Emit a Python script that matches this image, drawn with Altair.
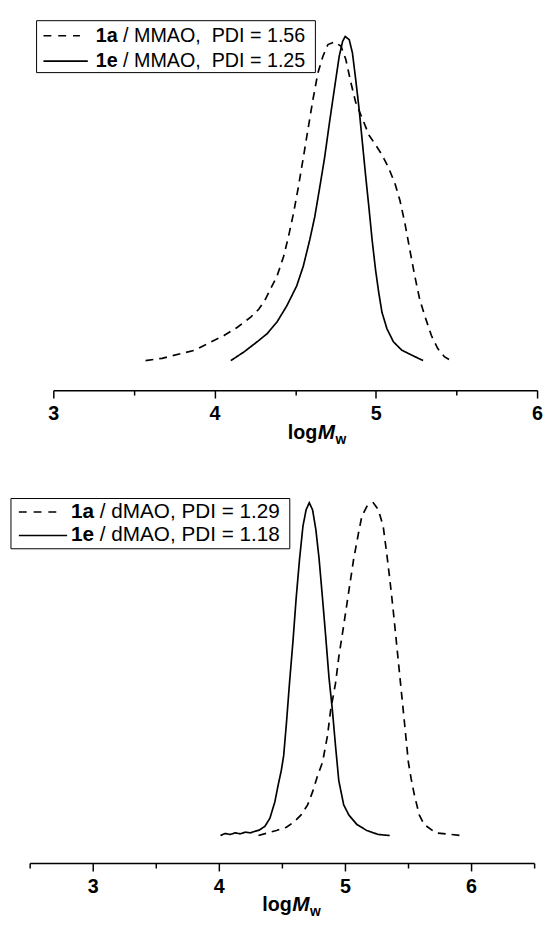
import altair as alt
import pandas as pd

# ---------------- data ----------------
# Top panel (MMAO)
a_mmao_x = [3.572, 3.674, 3.796, 3.878, 3.979, 4.061, 4.142, 4.224, 4.275, 4.315, 4.346, 4.387,
            4.428, 4.458, 4.489, 4.519, 4.550, 4.580, 4.611, 4.641, 4.672, 4.703, 4.743, 4.784,
            4.814, 4.845, 4.875, 4.916, 4.957, 4.998, 5.038, 5.079, 5.120, 5.150, 5.181, 5.211,
            5.242, 5.272, 5.303, 5.344, 5.384, 5.425, 5.466]
a_mmao_y = [0.000, 0.007, 0.022, 0.032, 0.058, 0.078, 0.103, 0.134, 0.159, 0.189, 0.220, 0.260,
            0.321, 0.382, 0.453, 0.534, 0.625, 0.716, 0.808, 0.888, 0.939, 0.975, 0.983, 0.970,
            0.929, 0.858, 0.797, 0.747, 0.696, 0.666, 0.635, 0.595, 0.544, 0.493, 0.422, 0.341,
            0.260, 0.189, 0.139, 0.078, 0.037, 0.012, 0.000]

e_mmao_x = [4.101, 4.183, 4.264, 4.326, 4.387, 4.448, 4.509, 4.550, 4.590, 4.621, 4.652, 4.682,
            4.713, 4.743, 4.773, 4.794, 4.810, 4.835, 4.855, 4.875, 4.896, 4.916, 4.936, 4.957,
            4.977, 4.998, 5.018, 5.038, 5.069, 5.109, 5.161, 5.222, 5.293]
e_mmao_y = [0.000, 0.027, 0.058, 0.083, 0.119, 0.169, 0.230, 0.291, 0.372, 0.443, 0.534, 0.625,
            0.736, 0.838, 0.939, 0.985, 1.000, 0.990, 0.949, 0.868, 0.777, 0.676, 0.574, 0.473,
            0.372, 0.281, 0.210, 0.149, 0.098, 0.058, 0.032, 0.017, 0.000]

# Bottom panel (dMAO)
a_dmao_x = [4.314, 4.457, 4.536, 4.600, 4.652, 4.704, 4.743, 4.783, 4.822, 4.861, 4.887, 4.925,
            4.951, 4.991, 5.030, 5.069, 5.108, 5.134, 5.174, 5.225, 5.264, 5.303, 5.330, 5.355,
            5.381, 5.407, 5.433, 5.459, 5.485, 5.503, 5.525, 5.551, 5.589, 5.628, 5.720, 5.916]
a_dmao_y = [0.000, 0.015, 0.025, 0.042, 0.062, 0.092, 0.131, 0.180, 0.220, 0.299, 0.378, 0.457,
            0.536, 0.634, 0.733, 0.831, 0.910, 0.960, 0.989, 1.000, 0.979, 0.930, 0.851, 0.772,
            0.683, 0.585, 0.486, 0.388, 0.289, 0.220, 0.170, 0.121, 0.062, 0.033, 0.008, 0.000]

e_dmao_x = [4.013, 4.050, 4.090, 4.130, 4.170, 4.210, 4.250, 4.290, 4.320, 4.366, 4.405, 4.444,
            4.470, 4.495, 4.514, 4.536, 4.560, 4.588, 4.613, 4.640, 4.667, 4.692, 4.717, 4.743,
            4.769, 4.795, 4.822, 4.848, 4.873, 4.900, 4.925, 4.951, 4.990, 5.030, 5.095, 5.173,
            5.264, 5.355]
e_dmao_y = [0.000, 0.006, 0.003, 0.008, 0.005, 0.010, 0.008, 0.013, 0.016, 0.028, 0.052, 0.101,
            0.151, 0.195, 0.240, 0.338, 0.457, 0.585, 0.713, 0.831, 0.930, 0.979, 1.000, 0.979,
            0.920, 0.831, 0.713, 0.595, 0.476, 0.378, 0.270, 0.165, 0.092, 0.062, 0.033, 0.015,
            0.003, 0.000]

top_ticks = [3, 3.5, 4, 4.5, 5, 5.5, 6]
bot_ticks = [2.5, 3, 3.5, 4, 4.5, 5, 5.5, 6, 6.5]

series_top = ["1a MMAO", "1e MMAO"]
series_bot = ["1a dMAO", "1e dMAO"]
legend_bold = ["1a", "1e"]
legend_top_rest = ["/ MMAO,\u00a0\u00a0PDI = 1.56", "/ MMAO,\u00a0\u00a0PDI = 1.25"]
legend_bot_rest = ["/ dMAO, PDI = 1.29", "/ dMAO, PDI = 1.18"]

FONT = "Liberation Sans"


def frame(xs_list, ys_list, names):
    rows = []
    for xs, ys, n in zip(xs_list, ys_list, names):
        for i, (x, y) in enumerate(zip(xs, ys)):
            rows.append({"x": x, "y": y, "series": n, "i": i})
    return pd.DataFrame(rows)


def one():
    return pd.DataFrame({"k": [0]})


def text_layer(s, x, y, size, weight="normal", style="normal", baseline="middle"):
    return alt.Chart(pd.DataFrame({"t": [s]})).mark_text(
        align="left", baseline=baseline, font=FONT, fontSize=size,
        fontWeight=weight, fontStyle=style, color="black"
    ).encode(x=alt.value(x), y=alt.value(y), text="t:N")


def axis(values):
    return alt.Axis(
        values=values,
        labelExpr="datum.value % 1 === 0 ? format(datum.value, 'd') : ''",
        tickSize=8,
        tickDash={"condition": {"test": "datum.value % 1 !== 0", "value": [5, 30]}, "value": [8, 0]},
        tickWidth=1.5, tickColor="black",
        domainColor="black", domainWidth=1.5,
        labelFont=FONT, labelFontSize=20, labelFontWeight="bold", labelColor="black",
        labelPadding=6, labelFlush=False, labelOverlap=False,
        grid=False, title=None,
    )


def panel(df, names, xscale, xvals, yscale, W, H, leg):
    lines = alt.Chart(df).mark_line(strokeWidth=1.7, color="black").encode(
        x=alt.X("x:Q", scale=xscale, axis=axis(xvals)),
        y=alt.Y("y:Q", scale=yscale, axis=None),
        strokeDash=alt.StrokeDash("series:N", scale=alt.Scale(domain=names, range=[[8, 6], [1, 0]]), legend=None),
        order="i:Q",
    )
    layers = [lines]
    # legend box
    layers.append(alt.Chart(one()).mark_rect(fill="white", stroke="black", strokeWidth=1).encode(
        x=alt.value(leg["bx0"]), x2=alt.value(leg["bx1"]), y=alt.value(leg["by0"]), y2=alt.value(leg["by1"])))
    layers.append(alt.Chart(one()).mark_rule(color="black", strokeWidth=1.7, strokeDash=[8, 7]).encode(
        x=alt.value(leg["lx0"]), x2=alt.value(leg["lx1d"]), y=alt.value(leg["r1"])))
    layers.append(alt.Chart(one()).mark_rule(color="black", strokeWidth=1.7).encode(
        x=alt.value(leg["lx0"]), x2=alt.value(leg["lx1s"]), y=alt.value(leg["r2"])))
    for k, ry in enumerate([leg["r1"], leg["r2"]]):
        layers.append(text_layer(legend_bold[k], leg["tx"], ry, leg["fs"], weight="bold"))
        layers.append(text_layer(leg["rest"][k], leg["tx"] + 1.39 * leg["fs"], ry, leg["fs"]))
    # axis title log M_w
    tx, ty = leg["title"]
    layers.append(text_layer("log", tx, ty, 20, weight="bold", baseline="alphabetic"))
    layers.append(text_layer("M", tx + 30.5, ty, 21, weight="bold", style="italic", baseline="alphabetic"))
    layers.append(text_layer("w", tx + 30.5 + 18, ty + 5, 14, weight="bold", baseline="alphabetic"))
    return alt.layer(*layers).properties(width=W, height=H)


df_top = frame([a_mmao_x, e_mmao_x], [a_mmao_y, e_mmao_y], series_top)
df_bot = frame([a_dmao_x, e_dmao_x], [a_dmao_y, e_dmao_y], series_bot)

top = panel(
    df_top, series_top,
    alt.Scale(domain=[3, 6], range=[24, 515], nice=False, zero=False), top_ticks,
    alt.Scale(domain=[-0.0912, 1.0608], nice=False, zero=False), 515, 379,
    dict(bx0=7, bx1=290, by0=4, by1=56.7, r1=19.3, r2=45, lx0=14, lx1d=51, lx1s=59,
         tx=67, fs=20, rest=legend_top_rest, title=(262, 429)),
)

bottom = panel(
    df_bot, series_bot,
    alt.Scale(domain=[2.5, 6.5], nice=False, zero=False), bot_ticks,
    alt.Scale(domain=[-0.0829, 1.0246], nice=False, zero=False), 512, 374,
    dict(bx0=-19, bx1=264, by0=4, by1=55, r1=17.7, r2=41.5, lx0=-11, lx1d=33, lx1s=38,
         tx=42, fs=21, rest=legend_bot_rest, title=(236, 423)),
)

chart = alt.vconcat(top, bottom, spacing=48).properties(
    padding={"left": 2, "top": 2, "right": 0, "bottom": 0}
).configure(font=FONT).configure_view(strokeWidth=0, stroke=None)

chart.save("out.html", embed_options={"renderer": "svg", "actions": False})
